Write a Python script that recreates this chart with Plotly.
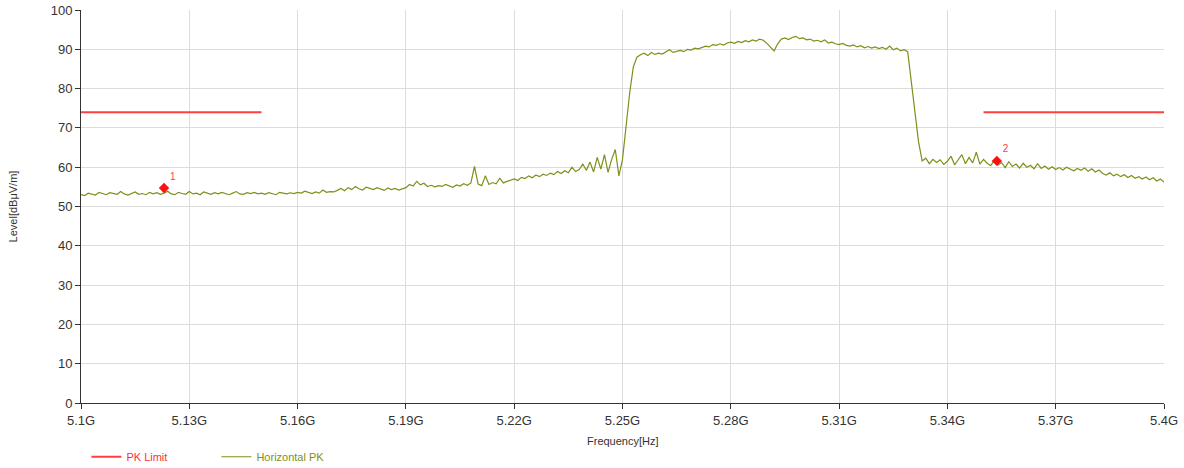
import plotly.graph_objects as go

# frequency axis in GHz, 1 MHz steps from 5.100 to 5.400
freq_start = 5.100
freq_step = 0.001

level_pk = [
    53.0, 52.8, 53.4, 53.1, 52.9, 53.6, 53.2, 53.0, 53.5, 53.3,
    53.1, 53.8, 53.2, 52.9, 53.4, 53.7, 53.1, 53.3, 53.0, 53.6,
    53.2, 53.5, 53.1, 53.4, 53.9, 53.2, 53.0, 53.6, 53.3, 53.1,
    53.8, 53.2, 53.4, 53.0, 53.7, 53.3, 53.1, 53.5, 53.2, 53.6,
    53.3, 53.0, 53.4, 53.8, 53.2, 53.1, 53.5, 53.3, 53.6, 53.2,
    53.4, 53.1, 53.5, 53.3, 53.0, 53.6, 53.4, 53.2, 53.5, 53.3,
    53.6, 53.4, 53.9, 53.5, 53.3, 53.7, 53.4, 54.2, 53.6, 53.8,
    53.7, 54.1, 54.6, 54.0, 54.8, 54.3, 55.1, 54.5, 54.2, 54.9,
    54.6, 54.3, 54.8, 54.4, 54.1, 54.7, 54.3, 54.6, 54.2, 54.5,
    54.8, 55.6, 55.2, 56.4, 55.5, 55.9, 55.1, 55.4, 55.0, 55.3,
    55.1, 55.6, 55.3, 54.9, 55.5, 55.2, 55.8, 55.4, 56.0, 60.2,
    55.7, 55.3, 57.8, 55.6, 56.1, 55.8, 57.2, 56.0, 56.4, 56.8,
    57.0, 56.6, 57.4, 57.1, 57.8, 57.3, 58.0, 57.6, 58.2, 57.9,
    58.5, 58.1, 58.9, 58.4, 59.1, 58.6, 60.0, 58.9, 59.4, 60.8,
    59.2, 61.3, 58.8, 62.5, 59.5, 63.2, 58.7, 62.0, 64.5, 57.8,
    62.0, 70.5, 79.0, 85.5, 88.0, 88.6, 89.0, 88.4, 89.2, 88.7,
    89.0, 88.8, 89.3, 89.9, 89.2, 89.5, 89.7, 89.4, 90.0, 89.8,
    90.3, 90.1, 90.5, 90.8, 90.6, 91.2, 91.0, 91.4, 91.1, 91.6,
    91.8, 91.5, 92.0, 91.7, 92.2, 91.9, 92.4, 92.1, 92.6, 92.3,
    91.5, 90.6, 89.6, 91.4, 92.6, 92.9, 92.5, 93.0, 93.3, 92.7,
    92.9, 92.4, 92.6, 92.1, 92.3, 91.9, 92.4, 91.6, 91.8, 91.4,
    91.2, 91.5, 91.0, 90.8, 91.1, 90.6, 90.9, 90.4, 90.7, 90.3,
    90.6, 90.2, 90.5, 90.0, 90.8, 89.9, 90.3, 89.6, 89.9, 89.4,
    82.0, 74.0, 66.5, 61.6, 62.3, 60.9, 62.0, 61.2, 61.9, 60.7,
    61.5, 62.8, 60.6, 61.9, 63.2, 60.9, 62.5, 61.1, 63.8, 60.8,
    62.0, 61.0, 60.4, 61.7, 60.5, 61.2, 59.9, 61.4, 60.2, 60.8,
    59.8, 61.0, 60.0, 60.5, 59.6, 60.9, 59.7, 60.3, 59.5, 60.1,
    59.4, 59.9, 59.3, 60.0, 59.5, 59.1, 59.7, 59.2, 59.8, 59.0,
    59.6, 58.8, 59.3, 58.4, 58.0, 58.6, 57.8, 58.2, 57.6, 58.1,
    57.4, 57.9, 57.2, 57.6, 57.0, 57.5, 56.8, 57.3, 56.5, 57.0,
    56.2,
]

limit_left_x = [5.10, 5.15]
limit_right_x = [5.35, 5.40]
limit_level = [74, 74]

marker_freq = [5.123, 5.3537]
marker_level = [54.7, 61.6]
marker_label = ["1", "2"]

tick_vals = [5.10, 5.13, 5.16, 5.19, 5.22, 5.25, 5.28, 5.31, 5.34, 5.37, 5.40]
tick_text = ["5.1G", "5.13G", "5.16G", "5.19G", "5.22G", "5.25G",
             "5.28G", "5.31G", "5.34G", "5.37G", "5.4G"]

freq = [freq_start + i * freq_step for i in range(len(level_pk))]

RED = "#ff4040"
GREEN = "#7f8f1a"

fig = go.Figure()
fig.add_trace(go.Scatter(
    x=limit_left_x, y=limit_level, mode="lines",
    line=dict(color=RED, width=2),
    name='<span style="color:#ff3030">PK Limit</span>',
    legendgroup="lim"))
fig.add_trace(go.Scatter(
    x=limit_right_x, y=limit_level, mode="lines",
    line=dict(color=RED, width=2), showlegend=False, legendgroup="lim"))
fig.add_trace(go.Scatter(
    x=freq, y=level_pk, mode="lines",
    line=dict(color=GREEN, width=1.2),
    name='<span style="color:#7f8f1a">Horizontal PK</span>'))
fig.add_trace(go.Scatter(
    x=marker_freq, y=marker_level, mode="markers+text",
    marker=dict(symbol="diamond", size=8, color="#ff1010"),
    text=marker_label, textposition="top right",
    textfont=dict(color="#ff4040", size=10),
    showlegend=False))

fig.update_layout(
    width=1184, height=468,
    margin=dict(l=81, r=20, t=10, b=65),
    paper_bgcolor="white", plot_bgcolor="white",
    font=dict(family="Liberation Sans, Arial, sans-serif", size=12, color="#333"),
    legend=dict(orientation="h", x=0.005, xanchor="left",
                yref="container", y=0.024, yanchor="middle",
                font=dict(size=11), itemwidth=30, entrywidth=85),
)
# x title as an annotation so it sits where the original has it
fig.add_annotation(text="Frequency[Hz]", xref="paper", yref="paper",
                   x=0.5, y=-0.097, yanchor="middle", showarrow=False,
                   font=dict(size=11, color="#333"))
fig.update_xaxes(
    range=[5.1, 5.4], tickvals=tick_vals, ticktext=tick_text,
    tickfont=dict(size=13),
    showgrid=True, gridcolor="#dcdcdc", gridwidth=1,
    showline=True, linecolor="#333", linewidth=1,
    ticks="outside", ticklen=5, tickcolor="#333",
    zeroline=False, automargin=False)
fig.update_yaxes(
    range=[0, 100], dtick=10, tickfont=dict(size=13),
    showgrid=True, gridcolor="#dcdcdc", gridwidth=1,
    showline=True, linecolor="#333", linewidth=1,
    ticks="outside", ticklen=5, tickcolor="#333",
    zeroline=False, automargin=False,
    title=dict(text="Level[dBμV/m]", font=dict(size=11), standoff=30))

# drop the default page margin so the figure sits at the window's corner
fig.write_html("out.html", config={"displayModeBar": False},
               post_script="document.body.style.margin='0';")
